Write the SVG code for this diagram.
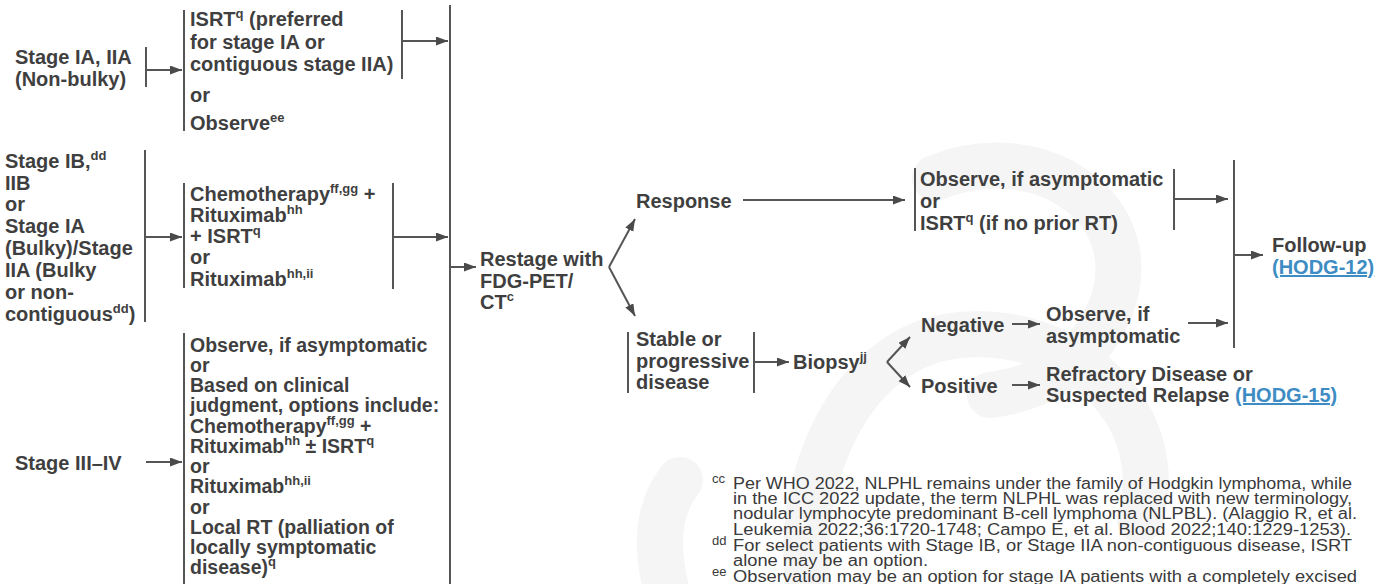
<svg xmlns="http://www.w3.org/2000/svg" width="1390" height="584" viewBox="0 0 1390 584">
<defs>
<style>
.t{font-family:"Liberation Sans",Arial,sans-serif;font-weight:bold;font-size:20px;fill:#3f3f3f}
.tc{font-size:19.5px}
.s{font-size:13px}
.lk{fill:#3d8cc4;text-decoration:underline}
.fn{font-family:"Liberation Sans Narrow","Liberation Sans",Arial,sans-serif;font-size:16px;fill:#3a3a3a}
.fs{font-size:13px}
.ln{stroke:#555;stroke-width:2;fill:none}
.ar{stroke:#555;stroke-width:2;fill:none;marker-end:url(#ah)}
.wm{stroke:#f5f5f5;stroke-width:46;fill:none;stroke-linecap:round}
</style>
<marker id="ah" markerUnits="userSpaceOnUse" markerWidth="13" markerHeight="10" refX="12" refY="4.5" orient="auto">
<path d="M0,0 L12,4.5 L0,9 z" fill="#4a4a4a"/>
</marker>
</defs>
<rect width="1390" height="584" fill="#ffffff"/>
<g id="watermark">
<path class="wm" d="M935 178 C1040 135 1150 210 1110 310 C1085 370 1030 390 990 395"/>
<path class="wm" d="M808 584 C795 480 850 345 960 335 C1080 325 1170 420 1140 520"/>
<path class="wm" d="M665 584 C655 540 660 505 680 480"/>
</g>
<g id="connectors">
<line class="ln" x1="146" y1="47" x2="146" y2="87"/>
<line class="ar" x1="146" y1="70" x2="182" y2="70"/>
<line class="ln" x1="145" y1="150" x2="145" y2="322"/>
<line class="ar" x1="145" y1="237" x2="182" y2="237"/>
<line class="ar" x1="146" y1="462" x2="182" y2="462"/>
<line class="ln" x1="184" y1="10" x2="184" y2="131"/>
<line class="ln" x1="184" y1="183" x2="184" y2="288"/>
<line class="ln" x1="184" y1="333" x2="184" y2="584"/>
<line class="ln" x1="402" y1="10" x2="402" y2="79"/>
<line class="ar" x1="402" y1="41" x2="448" y2="41"/>
<line class="ln" x1="393" y1="183" x2="393" y2="289"/>
<line class="ar" x1="393" y1="237" x2="448" y2="237"/>
<line class="ln" x1="450" y1="5" x2="450" y2="584"/>
<line class="ar" x1="450" y1="267" x2="476" y2="267"/>
<line class="ar" x1="609" y1="267" x2="635" y2="219"/>
<line class="ar" x1="609" y1="267" x2="635" y2="316"/>
<line class="ar" x1="743" y1="200" x2="905" y2="200"/>
<line class="ln" x1="915" y1="168" x2="915" y2="231"/>
<line class="ln" x1="1174" y1="169" x2="1174" y2="230"/>
<line class="ar" x1="1174" y1="199" x2="1228" y2="199"/>
<line class="ln" x1="1234" y1="160" x2="1234" y2="348"/>
<line class="ar" x1="1234" y1="255" x2="1263" y2="255"/>
<line class="ln" x1="628" y1="332" x2="628" y2="393"/>
<line class="ln" x1="754" y1="332" x2="754" y2="393"/>
<line class="ar" x1="754" y1="362" x2="789" y2="362"/>
<line class="ar" x1="887" y1="362" x2="910" y2="337"/>
<line class="ar" x1="887" y1="362" x2="910" y2="387"/>
<line class="ar" x1="1012" y1="324" x2="1040" y2="324"/>
<line class="ar" x1="1188" y1="323" x2="1228" y2="323"/>
<line class="ar" x1="1012" y1="385" x2="1040" y2="385"/>
</g>
<g id="stage-ia-iia">
<text class="t" x="15" y="64">Stage IA, IIA</text>
<text class="t" x="15" y="86">(Non-bulky)</text>
</g>
<g id="isrt-observe">
<text class="t" x="190" y="26">ISRT<tspan class="s" dy="-8">q</tspan><tspan dy="8"> (preferred</tspan></text>
<text class="t" x="190" y="49">for stage IA or</text>
<text class="t" x="190" y="71">contiguous stage IIA)</text>
<text class="t" x="190" y="102">or</text>
<text class="t" x="190" y="130">Observe<tspan class="s" dy="-8">ee</tspan></text>
</g>
<g id="stage-ib-iib">
<text class="t" x="5" y="168">Stage IB,<tspan class="s" dy="-8">dd</tspan></text>
<text class="t" x="5" y="190">IIB</text>
<text class="t" x="5" y="211">or</text>
<text class="t" x="5" y="233">Stage IA</text>
<text class="t" x="5" y="255">(Bulky)/Stage</text>
<text class="t" x="5" y="277">IIA (Bulky</text>
<text class="t" x="5" y="299">or non-</text>
<text class="t" x="5" y="321">contiguous<tspan class="s" dy="-8">dd</tspan><tspan dy="8">)</tspan></text>
</g>
<g id="chemo">
<text class="t" x="190" y="201">Chemotherapy<tspan class="s" dy="-8">ff,gg</tspan><tspan dy="8"> +</tspan></text>
<text class="t" x="190" y="222">Rituximab<tspan class="s" dy="-8">hh</tspan></text>
<text class="t" x="190" y="243">+ ISRT<tspan class="s" dy="-8">q</tspan></text>
<text class="t" x="190" y="264">or</text>
<text class="t" x="190" y="286">Rituximab<tspan class="s" dy="-8">hh,ii</tspan></text>
</g>
<g id="stage-iii-iv">
<text class="t" x="15" y="470">Stage III–IV</text>
</g>
<g id="advanced-options">
<text class="t tc" x="190" y="352">Observe, if asymptomatic</text>
<text class="t tc" x="190" y="372">or</text>
<text class="t tc" x="190" y="392">Based on clinical</text>
<text class="t tc" x="190" y="412">judgment, options include:</text>
<text class="t tc" x="190" y="433">Chemotherapy<tspan class="s" dy="-8">ff,gg</tspan><tspan dy="8"> +</tspan></text>
<text class="t tc" x="190" y="453">Rituximab<tspan class="s" dy="-8">hh</tspan><tspan dy="8"> ± ISRT</tspan><tspan class="s" dy="-8">q</tspan></text>
<text class="t tc" x="190" y="473">or</text>
<text class="t tc" x="190" y="493">Rituximab<tspan class="s" dy="-8">hh,ii</tspan></text>
<text class="t tc" x="190" y="514">or</text>
<text class="t tc" x="190" y="534">Local RT (palliation of</text>
<text class="t tc" x="190" y="554">locally symptomatic</text>
<text class="t tc" x="190" y="574">disease)<tspan class="s" dy="-8">q</tspan></text>
</g>
<g id="restage">
<text class="t" x="480" y="266">Restage with</text>
<text class="t" x="480" y="288">FDG-PET/</text>
<text class="t" x="480" y="309">CT<tspan class="s" dy="-8">c</tspan></text>
</g>
<g id="response">
<text class="t" x="636" y="208">Response</text>
</g>
<g id="response-options">
<text class="t" x="920" y="186">Observe, if asymptomatic</text>
<text class="t" x="920" y="208">or</text>
<text class="t" x="920" y="230">ISRT<tspan class="s" dy="-8">q</tspan><tspan dy="8"> (if no prior RT)</tspan></text>
</g>
<g id="follow-up">
<text class="t" x="1272" y="252">Follow-up</text>
<text class="t lk" x="1272" y="274">(HODG-12)</text>
</g>
<g id="stable">
<text class="t" x="636" y="346">Stable or</text>
<text class="t" x="636" y="368">progressive</text>
<text class="t" x="636" y="389">disease</text>
</g>
<g id="biopsy">
<text class="t" x="793" y="369">Biopsy<tspan class="s" dy="-8">jj</tspan></text>
</g>
<g id="negative">
<text class="t" x="921" y="332">Negative</text>
</g>
<g id="observe-neg">
<text class="t" x="1046" y="321">Observe, if</text>
<text class="t" x="1046" y="343">asymptomatic</text>
</g>
<g id="positive">
<text class="t" x="921" y="393">Positive</text>
</g>
<g id="refractory">
<text class="t" x="1046" y="381">Refractory Disease or</text>
<text class="t" x="1046" y="402">Suspected Relapse <tspan class="lk">(HODG-15)</tspan></text>
</g>
<g id="footnotes">
<text class="fn fs" x="712" y="483">cc</text>
<text class="fn" x="733" y="489" textLength="619" lengthAdjust="spacingAndGlyphs">Per WHO 2022, NLPHL remains under the family of Hodgkin lymphoma, while</text>
<text class="fn" x="733" y="504" textLength="619" lengthAdjust="spacingAndGlyphs">in the ICC 2022 update, the term NLPHL was replaced with new terminology,</text>
<text class="fn" x="733" y="519" textLength="624" lengthAdjust="spacingAndGlyphs">nodular lymphocyte predominant B-cell lymphoma (NLPBL). (Alaggio R, et al.</text>
<text class="fn" x="733" y="535" textLength="618" lengthAdjust="spacingAndGlyphs">Leukemia 2022;36:1720-1748; Campo E, et al. Blood 2022;140:1229-1253).</text>
<text class="fn fs" x="712" y="545">dd</text>
<text class="fn" x="733" y="551" textLength="619" lengthAdjust="spacingAndGlyphs">For select patients with Stage IB, or Stage IIA non-contiguous disease, ISRT</text>
<text class="fn" x="733" y="566" textLength="195" lengthAdjust="spacingAndGlyphs">alone may be an option.</text>
<text class="fn fs" x="712" y="576">ee</text>
<text class="fn" x="733" y="582" textLength="624" lengthAdjust="spacingAndGlyphs">Observation may be an option for stage IA patients with a completely excised</text>
</g>
</svg>
